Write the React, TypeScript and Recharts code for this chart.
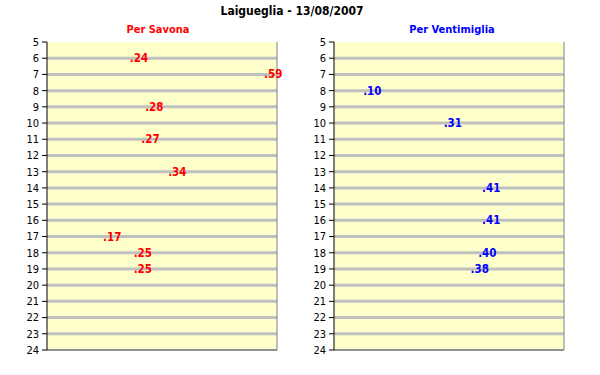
import { ScatterChart, Scatter, XAxis, YAxis, CartesianGrid, ReferenceLine } from 'recharts'

// orari delle partenze: ora e minuto
const savonaHours = [6, 7, 9, 11, 13, 17, 18, 19]
const savonaMinutes = [24, 59, 28, 27, 34, 17, 25, 25]
const ventimigliaHours = [8, 10, 14, 16, 18, 19]
const ventimigliaMinutes = [10, 31, 41, 41, 40, 38]
const hourTicks = [5, 6, 7, 8, 9, 10, 11, 12, 13, 14, 15, 16, 17, 18, 19, 20, 21, 22, 23, 24]
const gridHours = hourTicks.slice(1, -1)

const FONT = '"DejaVu Sans Condensed", "DejaVu Sans", sans-serif'

function toPoints(hours: number[], minutes: number[]) {
  return hours.map((h, i) => ({ hour: h, minute: minutes[i] }))
}

function Panel({ hours, minutes, color }: { hours: number[]; minutes: number[]; color: string }) {
  const data = toPoints(hours, minutes)
  return (
    <ScatterChart width={300} height={375} margin={{ top: 42, right: 23, bottom: 25, left: 7 }}>
      <CartesianGrid
        vertical={false}
        horizontalValues={gridHours}
        fill="#FFFFCC"
        stroke="#C0C0C0"
        strokeWidth={3}
      />
      <XAxis
        type="number"
        dataKey="minute"
        domain={[0, 60]}
        orientation="top"
        height={0}
        tick={false}
        tickLine={false}
        axisLine={{ stroke: '#000' }}
      />
      <YAxis
        type="number"
        dataKey="hour"
        domain={[5, 24]}
        reversed
        ticks={hourTicks}
        interval={0}
        width={40}
        tickSize={5}
        tickMargin={3}
        axisLine={{ stroke: '#000' }}
        tickLine={{ stroke: '#000' }}
        tick={{ fontSize: 11, fill: '#000', fontFamily: FONT }}
      />
      <ReferenceLine x={60} stroke="#808080" />
      <ReferenceLine y={24} stroke="#909090" strokeWidth={2} />
      <Scatter
        data={data}
        isAnimationActive={false}
        shape={(p: any) => (
          <text
            x={p.cx}
            y={p.cy}
            dy="0.35em"
            textAnchor="middle"
            fill={color}
            fontSize={11.5}
            fontWeight="bold"
            fontFamily={FONT}
          >
            {'.' + String(p.payload.minute).padStart(2, '0')}
          </text>
        )}
      />
    </ScatterChart>
  )
}

export default function App() {
  return (
    <div style={{ position: 'absolute', left: 0, top: 0, width: 600, height: 375, background: '#fff', fontFamily: FONT }}>
      <div style={{ position: 'absolute', left: 0, width: 584, top: 4, textAlign: 'center', fontSize: 12, fontWeight: 'bold' }}>
        Laigueglia - 13/08/2007
      </div>
      <div style={{ position: 'absolute', left: 58, width: 200, top: 23, textAlign: 'center', fontSize: 11, fontWeight: 'bold', color: '#FF0000' }}>
        Per Savona
      </div>
      <div style={{ position: 'absolute', left: 352, width: 200, top: 23, textAlign: 'center', fontSize: 11, fontWeight: 'bold', color: '#0000FF' }}>
        Per Ventimiglia
      </div>
      <div style={{ position: 'absolute', left: 0, top: 0 }}>
        <Panel hours={savonaHours} minutes={savonaMinutes} color="#FF0000" />
      </div>
      <div style={{ position: 'absolute', left: 287, top: 0 }}>
        <Panel hours={ventimigliaHours} minutes={ventimigliaMinutes} color="#0000FF" />
      </div>
    </div>
  )
}
